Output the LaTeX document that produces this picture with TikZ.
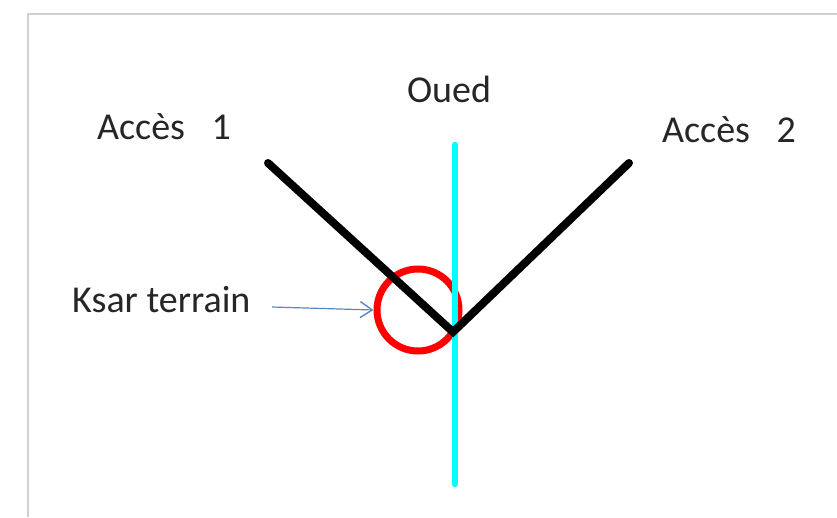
\documentclass[tikz,border=0pt]{standalone}
\usepackage{fontspec}
\setmainfont{Carlito}
\usetikzlibrary{arrows.meta}
\definecolor{txt}{HTML}{262626}
\definecolor{arrowblue}{HTML}{5B87C0}
\definecolor{frame}{HTML}{D0D0D0}
\definecolor{rivercol}{HTML}{00FFFF}
\definecolor{ksarred}{HTML}{FF0000}
\tikzset{
  lbl/.style={text=txt, font=\fontsize{38}{40}\selectfont, inner sep=0pt},
  road/.style={line width=8pt, line cap=round, line join=miter},
  river/.style={line width=6.5pt, rivercol, line cap=round},
  ksar/.style={circle, draw=ksarred, line width=7pt, minimum size=82pt, inner sep=0pt},
  pointer/.style={arrowblue, line width=1.2pt, -{Straight Barb[length=12pt, width=16pt, line width=1.4pt]}}
}
\begin{document}
\begin{tikzpicture}[x=1pt, y=-1pt]
\useasboundingbox (0,0) rectangle (837,517);
\fill[white] (0,0) rectangle (837,517);
% frame
\draw[frame, line width=2pt] (28,517) -- (28,14) -- (837,14);
% labels
\node[lbl] (oued) at (449,89) {Oued};
\node[lbl] (acc1) at (164,127) {Accès\hspace{0.7em}1};
\node[lbl] (acc2) at (729,130) {Accès\hspace{0.7em}2};
\node[lbl, anchor=west] (ksartxt) at (72,300) {Ksar terrain};
% river
\coordinate (rtop) at (455,145);
\coordinate (rbot) at (455,484);
% roads
\coordinate (a1) at (268,163);
\coordinate (v) at (453,332);
\coordinate (a2) at (629,163);
% circle
\node[ksar] (circ) at (418,310) {};
\draw[river] (rtop) -- (rbot);
\draw[road] (a1) -- (v) -- (a2);
% pointer
\coordinate (ps) at (272,307);
\draw[pointer] (ps) -- (circ.west);
\end{tikzpicture}
\end{document}
